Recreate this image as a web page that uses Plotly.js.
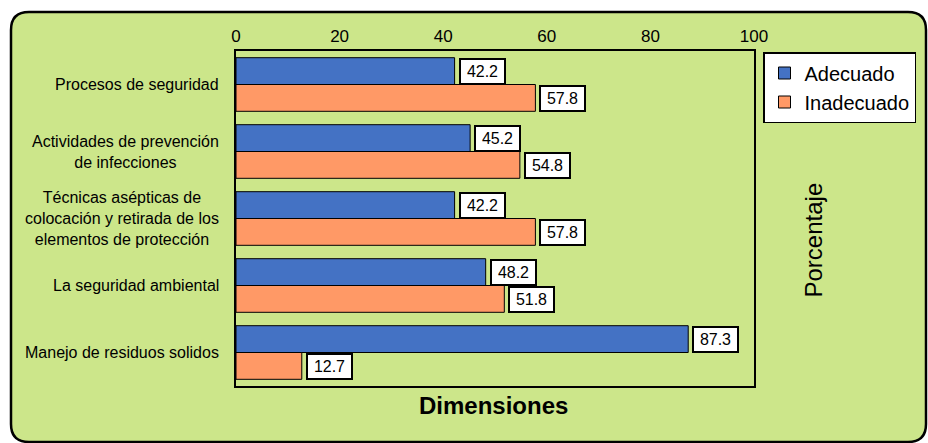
<!DOCTYPE html>
<html><head><meta charset="utf-8">
<script src="https://cdn.plot.ly/plotly-3.0.1.min.js"></script>
<style>html,body{margin:0;padding:0;background:#fff}</style>
</head><body>
<div id="chart" style="width:928px;height:443px"></div>
<script>
const categories = [
  "Procesos de seguridad",
  "Actividades de prevención<br>de infecciones",
  "Técnicas asépticas de<br>colocación y retirada de los<br>elementos de protección",
  "La seguridad ambiental",
  "Manejo de residuos solidos"
];
const adecuado = [42.2, 45.2, 42.2, 48.2, 87.3];
const inadecuado = [57.8, 54.8, 57.8, 51.8, 12.7];
const seriesNames = ["Adecuado", "Inadecuado"];
const xTicks = [0, 20, 40, 60, 80, 100];

const W = 928, H = 443;
const M = {l: 236, r: 174, t: 51, b: 57};
const pw = W - M.l - M.r, ph = H - M.t - M.b;
const px = v => (v - M.l) / pw;
const py = v => (H - M.b - v) / ph;

// rounded outer frame
function roundRect(x0, y0, x1, y1, r) {
  const X = v => px(v).toFixed(5), Y = v => py(v).toFixed(5);
  return `M ${X(x0 + r)} ${Y(y0)} L ${X(x1 - r)} ${Y(y0)} Q ${X(x1)} ${Y(y0)} ${X(x1)} ${Y(y0 + r)} ` +
    `L ${X(x1)} ${Y(y1 - r)} Q ${X(x1)} ${Y(y1)} ${X(x1 - r)} ${Y(y1)} ` +
    `L ${X(x0 + r)} ${Y(y1)} Q ${X(x0)} ${Y(y1)} ${X(x0)} ${Y(y1 - r)} ` +
    `L ${X(x0)} ${Y(y0 + r)} Q ${X(x0)} ${Y(y0)} ${X(x0 + r)} ${Y(y0)} Z`;
}

const font = "Liberation Sans, Arial, sans-serif";
const traces = [
  {type: "bar", orientation: "h", name: seriesNames[0], y: categories, x: adecuado,
   marker: {color: "#4472C4", line: {color: "#000", width: 1}}, hoverinfo: "x"},
  {type: "bar", orientation: "h", name: seriesNames[1], y: categories, x: inadecuado,
   marker: {color: "#FF9966", line: {color: "#000", width: 1}}, hoverinfo: "x"}
];

const annotations = [];
[adecuado, inadecuado].forEach((vals, s) => {
  vals.forEach((v, i) => {
    annotations.push({x: v, y: categories[i], xref: "x", yref: "y", text: v.toFixed(1),
      showarrow: false, xanchor: "left", xshift: 4, yshift: s === 0 ? 13.5 : -13.5,
      width: 41, height: 21, align: "center", valign: "middle",
      font: {family: font, size: 16, color: "#000"}, bgcolor: "#fff",
      bordercolor: "#000", borderwidth: 2, borderpad: 1});
  });
});
categories.forEach(c => {
  annotations.push({x: px(221), xref: "paper", y: c, yref: "y", text: c, showarrow: false,
    xanchor: "right", align: "center", font: {family: font, size: 16, color: "#000"}});
});
annotations.push({x: px(829), y: py(240), xref: "paper", yref: "paper", text: "Porcentaje",
  textangle: -90, showarrow: false, font: {family: font, size: 24, color: "#000"}});
annotations.push({x: px(493), y: py(421), xref: "paper", yref: "paper", text: "<b>Dimensiones</b>",
  showarrow: false, font: {family: font, size: 24, color: "#000"}});

const layout = {
  width: W, height: H, margin: M, paper_bgcolor: "#fff", plot_bgcolor: "#fff",
  barmode: "group", bargap: 0.2, bargroupgap: 0,
  font: {family: font, color: "#000"},
  xaxis: {side: "top", range: [0, 100], tickvals: xTicks, ticktext: xTicks.map(String),
    showgrid: false, zeroline: false, showline: true, mirror: true, linecolor: "#000", linewidth: 2,
    ticks: "", tickfont: {size: 17, family: font}, fixedrange: true},
  yaxis: {autorange: "reversed", showticklabels: false, showgrid: false, zeroline: false,
    showline: true, mirror: true, linecolor: "#000", linewidth: 2, ticks: ""},
  legend: {x: px(763), y: py(52), xanchor: "left", yanchor: "top", bgcolor: "#fff",
    bordercolor: "#000", borderwidth: 1.5, font: {size: 20, family: font},
    itemwidth: 30},
  shapes: [{type: "path", xref: "paper", yref: "paper", layer: "below",
    path: roundRect(11, 12, 926, 442, 18), fillcolor: "#CCE68A",
    line: {color: "#000", width: 2.5}}],
  annotations: annotations,
  showlegend: true
};
Plotly.newPlot("chart", traces, layout, {staticPlot: true});
</script>
</body></html>
